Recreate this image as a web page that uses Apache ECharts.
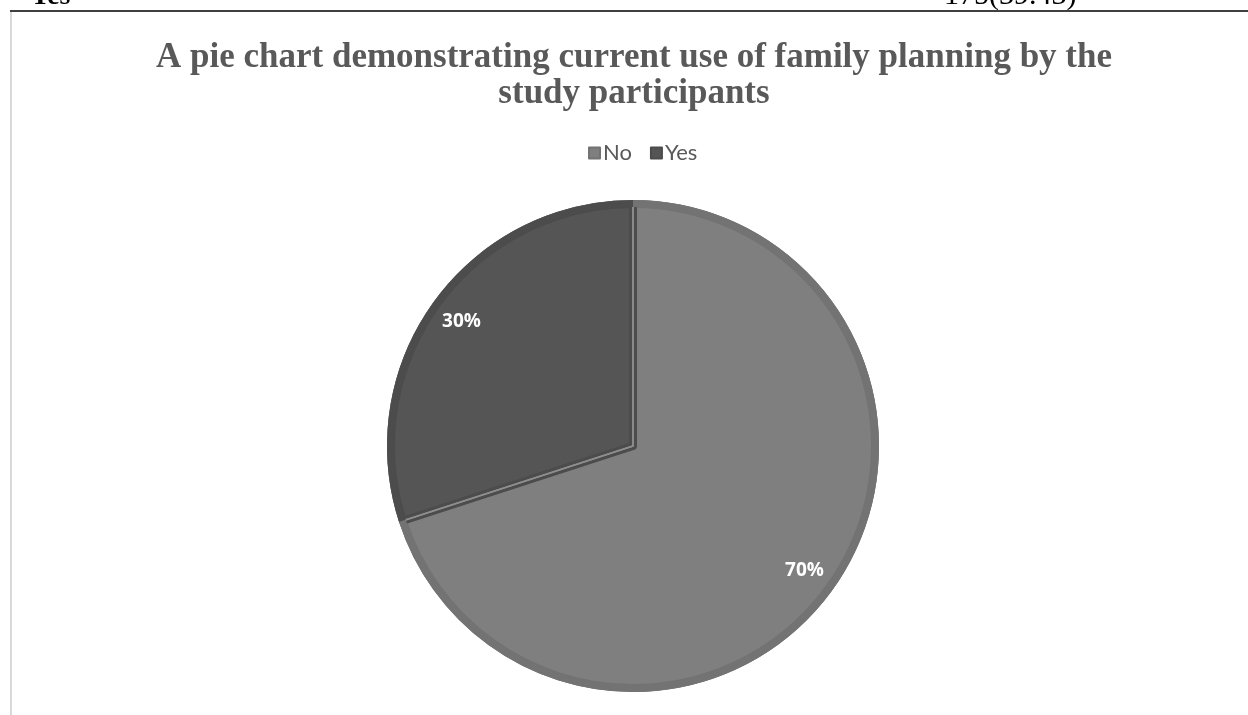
<!DOCTYPE html>
<html>
<head>
<meta charset="utf-8">
<script src="https://cdn.jsdelivr.net/npm/echarts@6/dist/echarts.min.js"></script>
<style>
  html, body { margin: 0; padding: 0; background: #fff; }
  #main { width: 1248px; height: 715px; }
</style>
</head>
<body>
<div id="main"></div>
<script>
// data
var categories = ['No', 'Yes'];
var shares = [70, 30];
var fillColors = ['#7f7f7f', '#555555'];
var edgeColors = ['#737373', '#4c4c4c'];

var myChart = echarts.init(document.getElementById('main'));

var center = [633, 446];

function items(style) {
  return categories.map(function (name, i) {
    return { name: name, value: shares[i], itemStyle: style(i) };
  });
}

myChart.setOption({
  animation: false,
  title: {
    text: 'A pie chart demonstrating current use of family planning by the\nstudy participants',
    left: 629,
    top: 35,
    textAlign: 'center',
    textStyle: {
      fontFamily: 'Liberation Serif',
      fontWeight: 'bold',
      fontSize: 35,
      lineHeight: 36,
      color: '#595959'
    }
  },
  legend: {
    top: 137,
    left: 583,
    itemWidth: 11,
    itemHeight: 11,
    itemGap: 18,
    icon: 'rect',
    data: categories,
    textStyle: { fontFamily: 'Lato', fontSize: 22, color: '#595959', padding: [0, 0, 0, -2] }
  },
  graphic: [
    // cropped table row above the chart
    { type: 'text', x: 30, y: 11, style: { text: 'Yes', font: 'bold 28px "Liberation Serif"', fill: '#000', verticalAlign: 'bottom' } },
    { type: 'text', x: 944, y: 11, style: { text: '175(39.43)', font: '30px "Liberation Serif"', fill: '#000', verticalAlign: 'bottom' } },
    { type: 'line', shape: { x1: 10, y1: 11, x2: 1248, y2: 11 }, style: { stroke: '#000', lineWidth: 1.5 } },
    { type: 'line', shape: { x1: 11, y1: 12, x2: 11, y2: 715 }, style: { stroke: '#d9d9d9', lineWidth: 2 } }
  ],
  series: [
    {
      name: 'main',
      type: 'pie',
      center: center,
      radius: 242,
      startAngle: 90,
      clockwise: true,
      silent: true,
      label: { show: false },
      labelLine: { show: false },
      data: items(function (i) {
        return { color: fillColors[i], borderColor: edgeColors[i], borderWidth: 8 };
      })
    },
    {
      name: 'divider',
      type: 'pie',
      center: center,
      radius: 245,
      startAngle: 90,
      silent: true,
      label: { show: false },
      labelLine: { show: false },
      data: items(function () {
        return { color: 'rgba(0,0,0,0)', borderColor: '#8e8e8e', borderWidth: 1.5 };
      })
    },
    {
      name: 'rim',
      type: 'pie',
      center: center,
      radius: [239, 246],
      startAngle: 90,
      silent: true,
      label: { show: false },
      labelLine: { show: false },
      data: items(function (i) {
        return { color: edgeColors[i], borderWidth: 0 };
      })
    },
    {
      name: 'labels',
      type: 'pie',
      center: center,
      radius: [172, 246],
      startAngle: 90,
      silent: true,
      labelLine: { show: false },
      label: {
        show: true,
        position: 'inside',
        formatter: '{d}%',
        color: '#fff',
        fontFamily: 'Open Sans',
        fontWeight: 'bold',
        fontSize: 19
      },
      data: items(function () {
        return { color: 'rgba(0,0,0,0)', borderWidth: 0 };
      })
    }
  ]
});
</script>
</body>
</html>
